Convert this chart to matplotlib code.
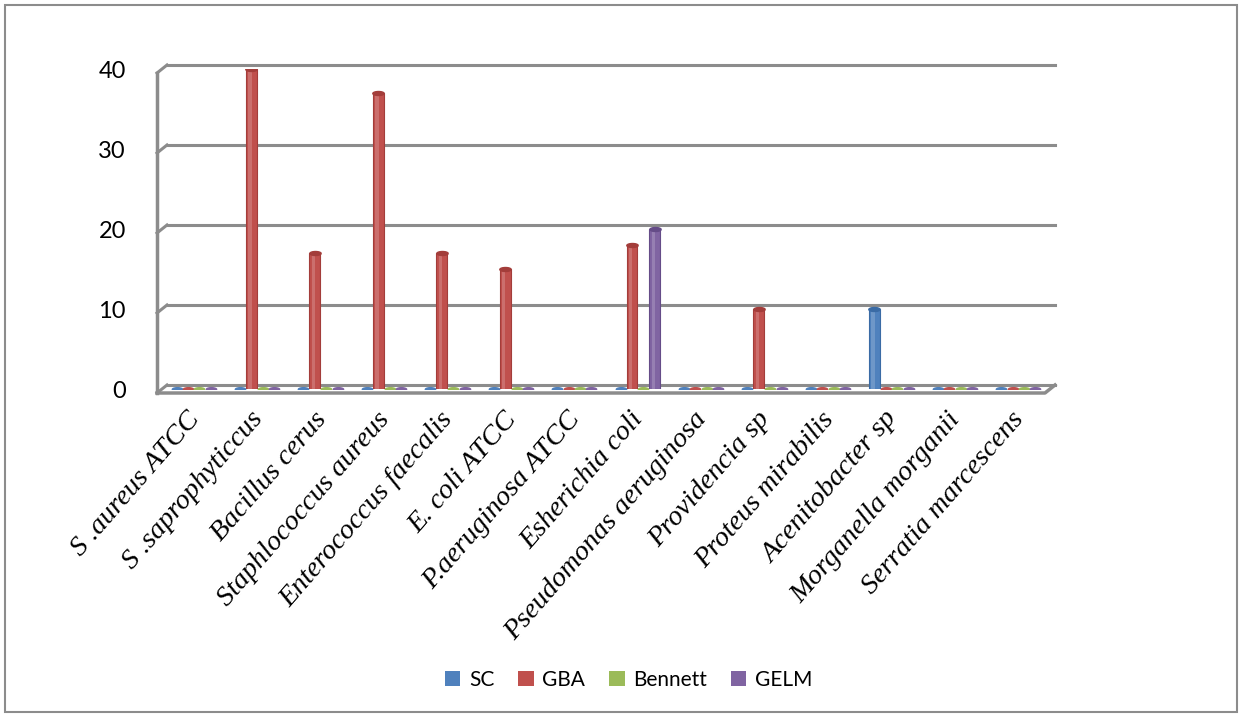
import numpy as np
import matplotlib
matplotlib.use("Agg")
import matplotlib.pyplot as plt
from matplotlib.patches import Patch, Rectangle
from matplotlib.path import Path
from matplotlib.transforms import ScaledTranslation

# data
organisms = ["S .aureus ATCC", "S .saprophyticcus", "Bacillus cerus",
             "Staphlococcus aureus", "Enterococcus faecalis", "E. coli ATCC",
             "P.aeruginosa ATCC", "Esherichia coli", "Pseudomonas aeruginosa",
             "Providencia sp", "Proteus mirabilis", "Acenitobacter sp",
             "Morganella morganii", "Serratia marcescens"]
series_names = ["SC", "GBA", "Bennett", "GELM"]
sc = [0, 0, 0, 0, 0, 0, 0, 0, 0, 0, 0, 10, 0, 0]
gba = [0, 40, 17, 37, 17, 15, 0, 18, 0, 10, 0, 0, 0, 0]
bennett = [0, 0, 0, 0, 0, 0, 0, 0, 0, 0, 0, 0, 0, 0]
gelm = [0, 0, 0, 0, 0, 0, 0, 20, 0, 0, 0, 0, 0, 0]
yticks = [0, 10, 20, 30, 40]

colors = ["#4F81BD", "#C0504D", "#9BBB59", "#8064A2"]
caps = ["#3A6BA5", "#A33D3A", "#7F9E44", "#654C88"]
gray = "#8C8C8C"

W, H = 1242, 717
fig = plt.figure(figsize=(W / 100, H / 100), dpi=100)
fig.patch.set_facecolor("white")
fig.patches.append(Rectangle((5 / W, 5 / H), 1232 / W, 707 / H, transform=fig.transFigure,
                             fill=False, edgecolor=gray, lw=1.5))

# axes = middle depth plane of the excel 3d chart
x0_px, x1_px, y0_px, y40_px = 162, 1050, 389, 69
ax = fig.add_axes([x0_px / W, 1 - y0_px / H, (x1_px - x0_px) / W, (y0_px - y40_px) / H])
n = len(organisms)
ax.set_xlim(-0.5, n - 0.5)
ax.set_ylim(0, 40)
for s in ax.spines.values():
    s.set_visible(False)

# depth offsets (5 px right, 4 px up) in data units
dx = 5 / ((x1_px - x0_px) / n)
dy = 4 / ((y0_px - y40_px) / 40)
xl, xr = -0.5, n - 0.5

# back wall gridlines + left wall
for t in yticks:
    ax.plot([xl + dx, xr + dx], [t + dy, t + dy], color=gray, lw=2.2, clip_on=False, zorder=1)
    ax.plot([xl - dx, xl + dx], [t - dy, t + dy], color=gray, lw=2.2, clip_on=False, zorder=1)
ax.plot([xl - dx, xl - dx], [-dy, 40 - dy], color=gray, lw=2.5, clip_on=False, zorder=1)
# floor
ax.plot([xl - dx, xr - dx, xr + dx], [-dy, -dy, dy], color=gray, lw=2.5, clip_on=False, zorder=1)

# bars as cylinders
ellipse = Path([(np.cos(a), 0.35 * np.sin(a)) for a in np.linspace(0, 2 * np.pi, 40)])
x = np.arange(n)
bw = 0.18
for i, (vals, c, cc) in enumerate(zip([sc, gba, bennett, gelm], colors, caps)):
    v = np.array(vals, dtype=float)
    xs = x + (i - 1.5) * bw
    nz = v > 0
    ax.bar(xs[nz], v[nz], width=bw * 0.95, color=c, edgecolor=cc, lw=0.8, zorder=3)
    ax.bar(xs[nz] - bw * 0.12, v[nz], width=bw * 0.3, color="white", alpha=0.18, lw=0, zorder=4)
    ax.plot(xs[nz], v[nz], ls="none", marker=ellipse, ms=8.2, color=cc, mec=cc, zorder=5)
    ax.plot(xs[~nz], v[~nz], ls="none", marker=ellipse, ms=7.5, color=c, mec=c, zorder=2)

ax.set_yticks(yticks)
ax.set_yticklabels([str(t) for t in yticks], fontsize=17, family="Lato")
ax.tick_params(axis="y", length=0, pad=26)
ax.set_xticks(x)
ax.set_xticklabels(organisms, rotation=49, ha="right", va="top", rotation_mode="anchor",
                   fontsize=20.5, family="Liberation Serif", style="italic")
ax.tick_params(axis="x", length=0, pad=13)
shift = ScaledTranslation(-8 / 100, 0, fig.dpi_scale_trans)
for lab in ax.get_xticklabels():
    lab.set_transform(lab.get_transform() + shift)

handles = [Patch(facecolor=c, edgecolor="none") for c in colors]
fig.legend(handles, series_names, loc="center", bbox_to_anchor=(0.506, 1 - 680 / H),
           ncol=4, frameon=False, handlelength=0.75, handleheight=0.75, handletextpad=0.4,
           columnspacing=1.15, prop={"family": "Lato", "size": 15})

fig.savefig("out.png", dpi=100, facecolor="white")
